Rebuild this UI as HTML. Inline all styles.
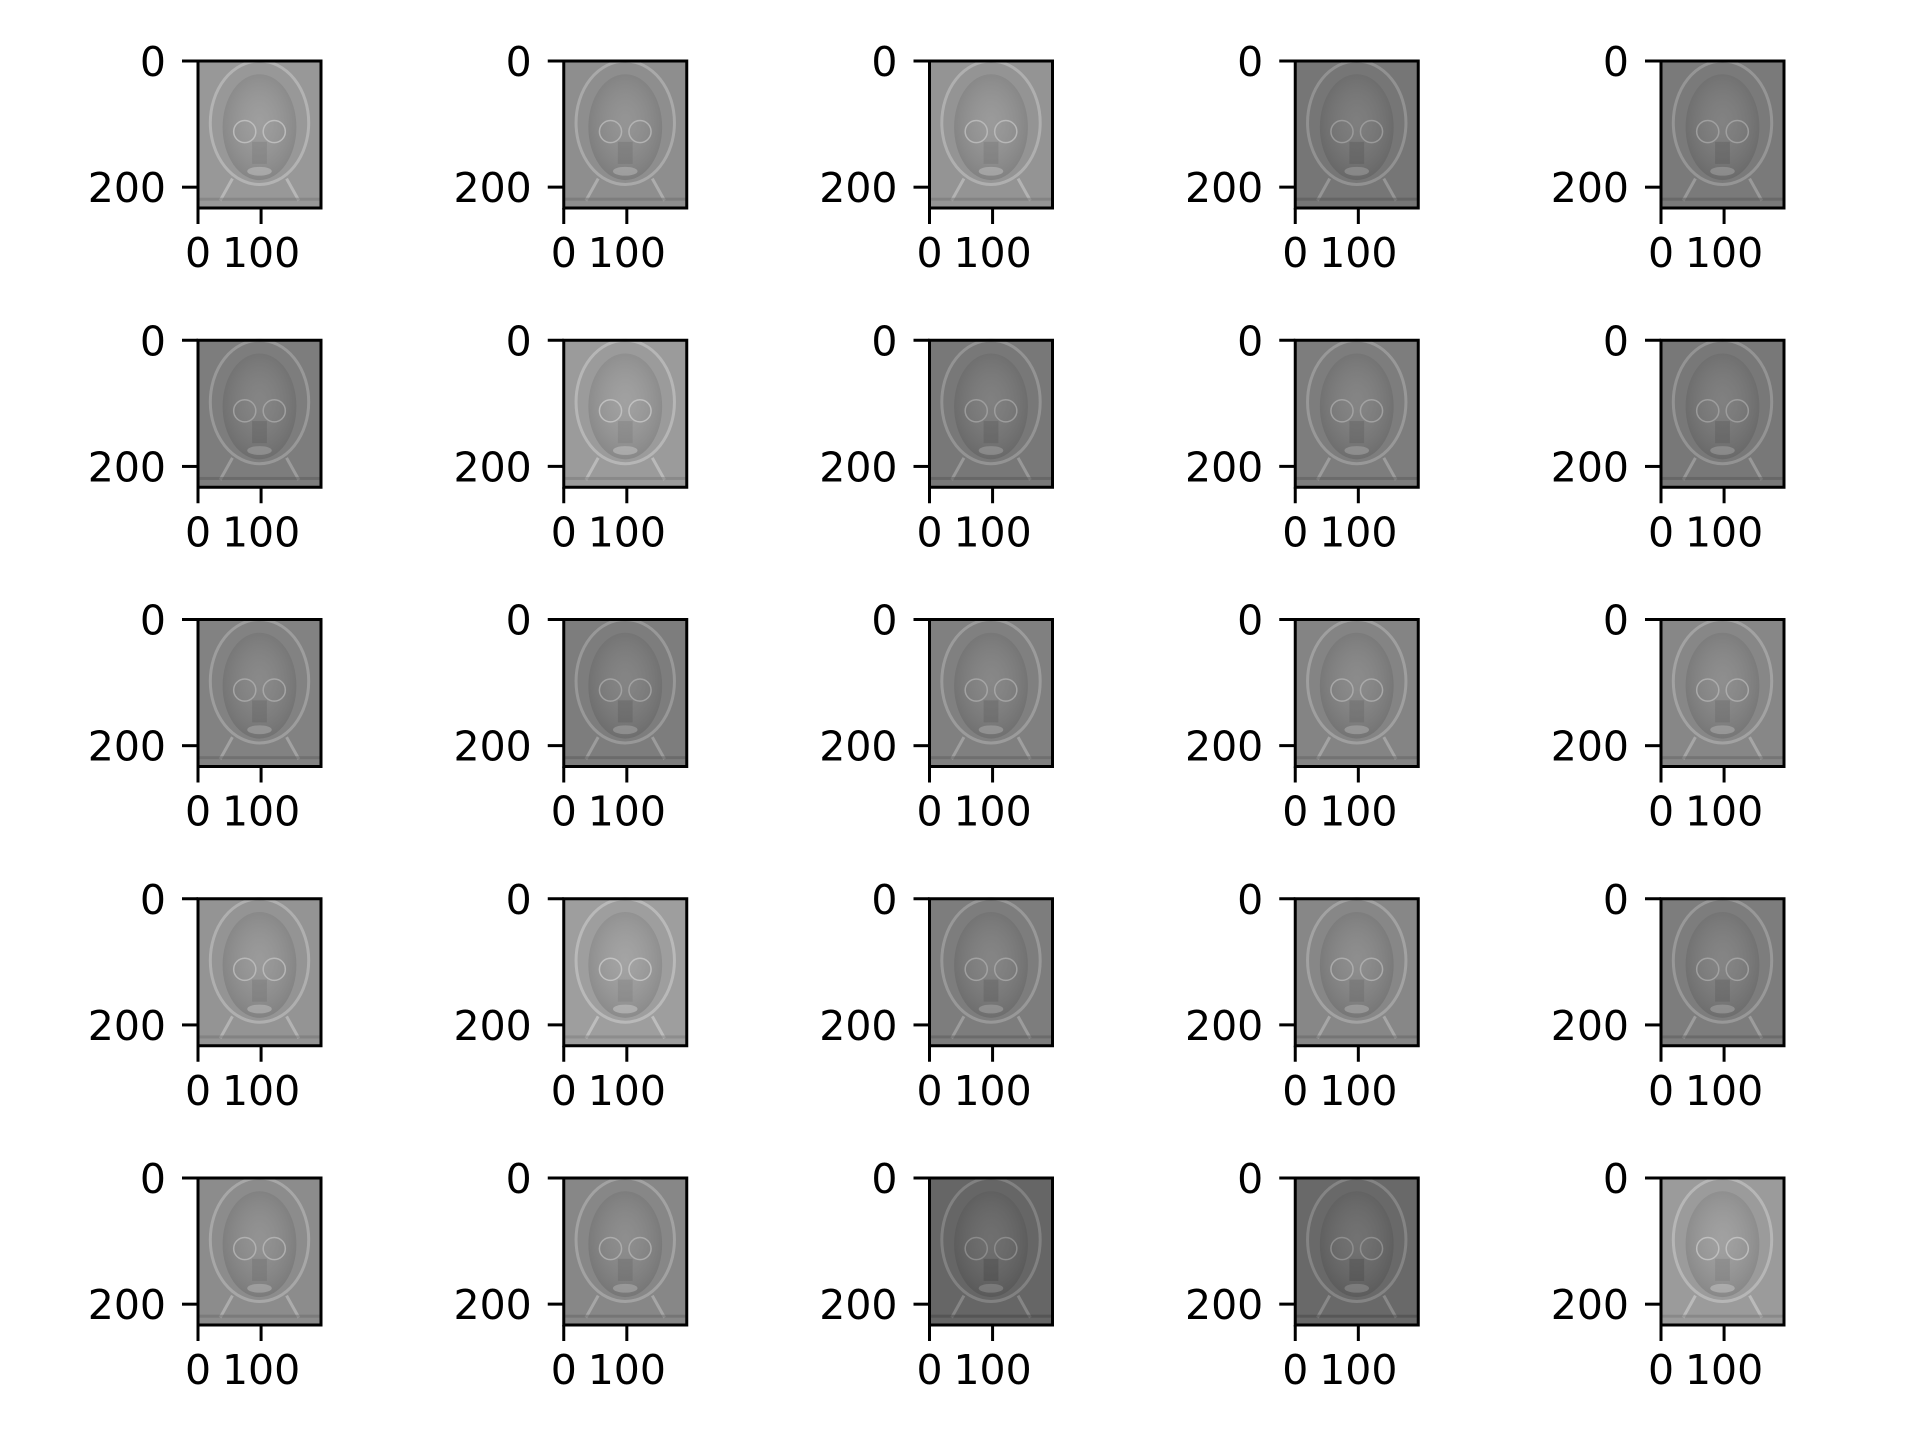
<!DOCTYPE html>
<html><head><meta charset="utf-8"><style>
html,body{margin:0;padding:0;background:#fff;width:1920px;height:1440px;overflow:hidden}
svg text{font-family:"DejaVu Sans","Liberation Sans",sans-serif;font-size:41px;fill:#000}
</style></head><body>
<svg id="fig" width="1920" height="1440" viewBox="0 0 1920 1440" xmlns="http://www.w3.org/2000/svg">
<defs>
<radialGradient id="faceG" cx="50%" cy="45%" r="55%"><stop offset="0" stop-color="#fff" stop-opacity="0.06"/><stop offset="1" stop-color="#000" stop-opacity="0.12"/></radialGradient>
</defs>
</svg>
<script>
// image extent (pixels of the eigenface image)
const imgWidthUnits = 195;
const imgHeightUnits = 233;
const xTicks = [0, 100];
const xTickLabels = ["0", "100"];
const yTicks = [0, 200];
const yTickLabels = ["0", "200"];
// per-panel base gray level (0-255), rows top to bottom
const panelGray = [152,142,148,118,122, 125,155,120,125,120, 130,125,128,132,135, 148,158,125,135,125, 140,135,102,105,155];
const nRows = 5, nCols = 5;
const svg = document.getElementById('fig');
const NS = 'http://www.w3.org/2000/svg';
function mk(tag, attrs, parent){const e=document.createElementNS(NS,tag);for(const k in attrs)e.setAttribute(k,attrs[k]);(parent||svg).appendChild(e);return e;}
const x0=198, y0=61, dx=365.75, dy=279.25, pw=123, ph=147;
for(let r=0;r<nRows;r++)for(let c=0;c<nCols;c++){
  const i=r*nCols+c;
  const L=x0+c*dx, T=y0+r*dy;
  const sx=v=>L+v/imgWidthUnits*pw;
  const sy=v=>T+v/imgHeightUnits*ph;
  const g=mk('g',{});
  
  
  const gv=panelGray[i];
  const col=`rgb(${gv},${gv},${gv})`;
  const img=mk('g',{},g);
  
  
  mk('rect',{x:L,y:T,width:pw,height:ph,fill:col},img);
  const lt=Math.min(255,gv+45), dk=Math.max(0,gv-35);
  mk('ellipse',{cx:L+pw*0.5,cy:T+ph*0.42,rx:pw*0.4,ry:ph*0.42,fill:'none',stroke:`rgb(${lt},${lt},${lt})`,'stroke-width':3,opacity:0.6},img);
  mk('ellipse',{cx:L+pw*0.5,cy:T+ph*0.45,rx:pw*0.3,ry:ph*0.36,fill:'url(#faceG)'},img);
  mk('circle',{cx:L+pw*0.38,cy:T+ph*0.48,r:pw*0.09,fill:'none',stroke:`rgb(${lt},${lt},${lt})`,'stroke-width':1.5,opacity:0.8},img);
  mk('circle',{cx:L+pw*0.62,cy:T+ph*0.48,r:pw*0.09,fill:'none',stroke:`rgb(${lt},${lt},${lt})`,'stroke-width':1.5,opacity:0.8},img);
  mk('rect',{x:L+pw*0.44,y:T+ph*0.55,width:pw*0.12,height:ph*0.15,fill:`rgb(${dk},${dk},${dk})`,opacity:0.35},img);
  mk('ellipse',{cx:L+pw*0.5,cy:T+ph*0.75,rx:pw*0.1,ry:ph*0.03,fill:`rgb(${lt},${lt},${lt})`,opacity:0.5},img);
  mk('path',{d:`M${L+pw*0.18} ${T+ph*0.95} L${L+pw*0.28} ${T+ph*0.8} M${L+pw*0.82} ${T+ph*0.95} L${L+pw*0.72} ${T+ph*0.8}`,stroke:`rgb(${lt},${lt},${lt})`,'stroke-width':3,fill:'none',opacity:0.7},img);
  mk('rect',{x:L,y:T+ph*0.93,width:pw,height:ph*0.02,fill:`rgb(${dk},${dk},${dk})`,opacity:0.5},img);
  const fr=mk('rect',{x:L,y:T,width:pw,height:ph,fill:'none',stroke:'#000','stroke-width':3},g);
  
  
  yTicks.forEach((v,k)=>{
    const y=sy(v);
    const t=mk('line',{x1:L-16,x2:L,y1:y,y2:y,stroke:'#000','stroke-width':3},g);
    
    
    const tx=mk('text',{x:L-32,y:y+15,'text-anchor':'end'},g);
    tx.textContent=yTickLabels[k];
    
    
  });
  xTicks.forEach((v,k)=>{
    const x=sx(v);
    const t=mk('line',{x1:x,x2:x,y1:T+ph,y2:T+ph+16,stroke:'#000','stroke-width':3},g);
    
    
    const tx=mk('text',{x:x,y:T+ph+59,'text-anchor':'middle'},g);
    tx.textContent=xTickLabels[k];
    
    
  });
}
</script>
</body></html>
